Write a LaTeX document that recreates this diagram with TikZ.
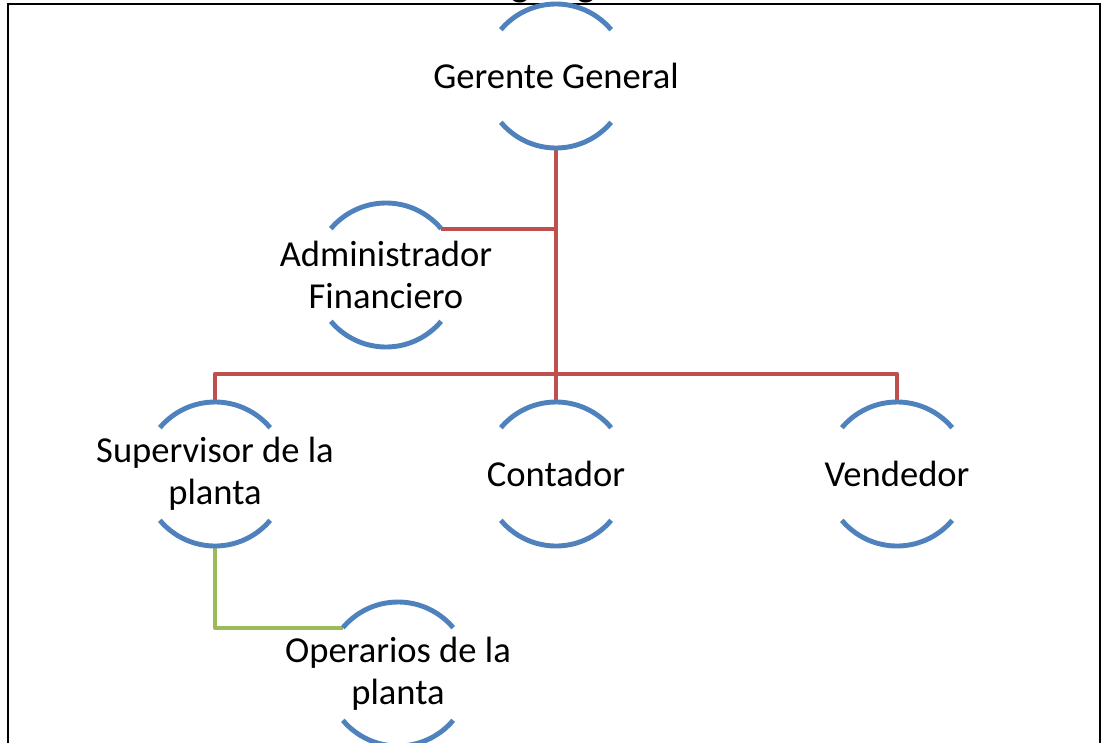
\documentclass[tikz,border=0pt]{standalone}
\usepackage{fontspec}
\setmainfont{Carlito}
\usepackage{xcolor}
\definecolor{arcblue}{rgb}{0.31,0.51,0.74}
\definecolor{linkred}{rgb}{0.75,0.31,0.30}
\definecolor{linkgreen}{rgb}{0.61,0.73,0.35}
\tikzstyle{role}=[circle,minimum size=3.6cm,inner sep=0,outer sep=0]
\tikzstyle{role text}=[align=center,font=\fontsize{26}{30}\selectfont]
\tikzstyle{rim}=[arcblue,line width=3.5pt]
\tikzstyle{link red}=[linkred,line width=3pt,line join=round]
\tikzstyle{link green}=[linkgreen,line width=3pt,line join=round]
\newcommand{\rolerim}[1]{\draw[rim] (#1.40) arc[start angle=40,end angle=140,radius=72];
  \draw[rim] (#1.220) arc[start angle=220,end angle=320,radius=72];}

\begin{document}
\begin{tikzpicture}[x=0.025cm,y=0.025cm]
		\useasboundingbox (0,0) rectangle (1108,-742);
		\node[anchor=base,font=\bfseries\fontsize{27}{32}\selectfont](title) at (575,3){Organigrama};

		\node[role](gg) at (556,-76){};
		\node[role](adm) at (386,-275){};

		\node[role](sup) at (215,-474){};
		\node[role](cont) at (556,-474){};
		\node[role](vend) at (897,-474){};

		\node[role](ope) at (398,-674){};

		\node[role text](ggt) at (gg){Gerente General};
		\node[role text](admt) at (adm){Administrador\\Financiero};
		\node[role text](supt) at (sup){Supervisor de la\\planta};
		\node[role text](contt) at (cont){Contador};
		\node[role text](vendt) at (vend){Vendedor};
		\node[role text](opet) at (ope){Operarios de la\\planta};

		\coordinate(bus) at (556,-374);
% frame
		\draw[line width=1.6pt] (8,-760) -- (8,-4) -- (1100,-4) -- (1100,-760);
% gerente to second level
		\draw[link red] (gg.south) -- (cont.north);
		\draw[link red] (adm.40) -- (adm.40 -| gg.south);
		\draw[link red] (sup.north) |- (bus) -| (vend.north);
% supervisor to operarios
		\draw[link green] (sup.south) |- (ope.140);

		\rolerim{gg}
		\rolerim{adm}
		\rolerim{sup}
		\rolerim{cont}
		\rolerim{vend}
		\rolerim{ope}
	\end{tikzpicture}
\end{document}
